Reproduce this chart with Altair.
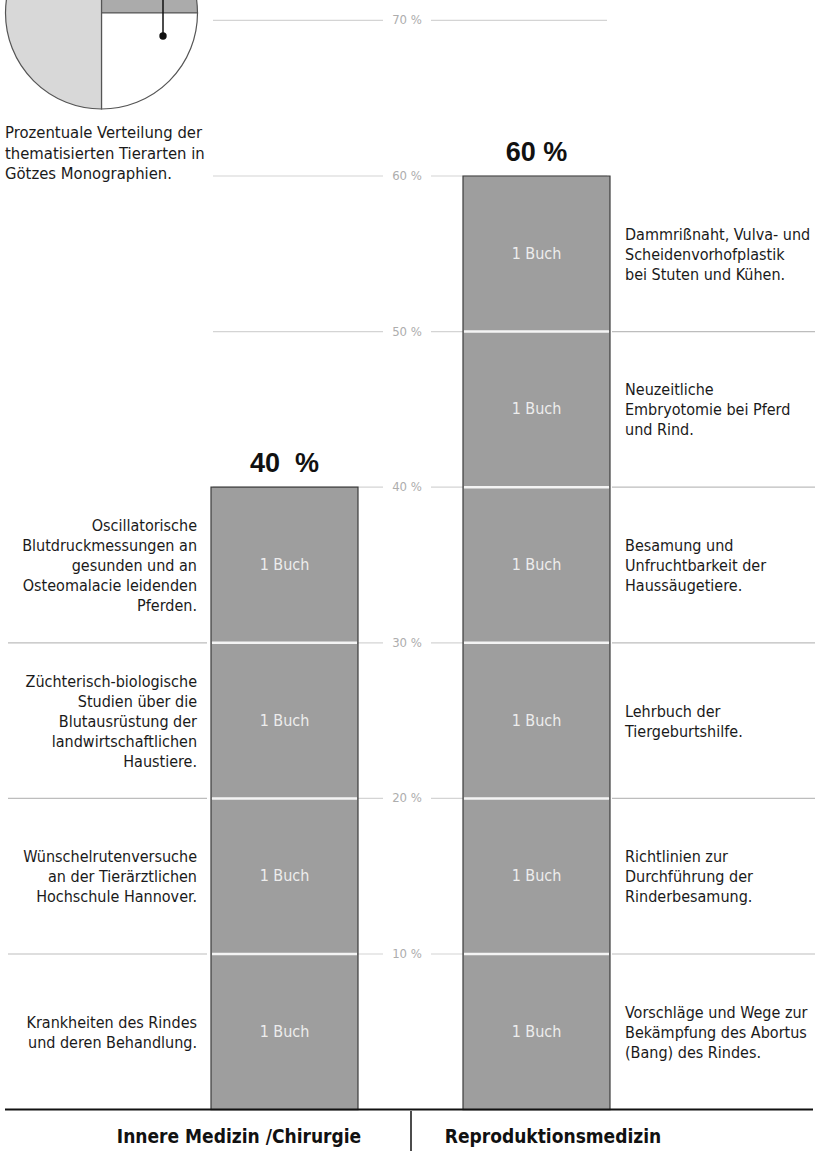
import altair as alt
import pandas as pd

# ---------------- data ----------------
categories = ["Innere Medizin /Chirurgie", "Reproduktionsmedizin"]

books_inner = [
    "Krankheiten des Rindes\nund deren Behandlung.",
    "Wünschelrutenversuche\nan der Tierärztlichen\nHochschule Hannover.",
    "Züchterisch-biologische\nStudien über die\nBlutausrüstung der\nlandwirtschaftlichen\nHaustiere.",
    "Oscillatorische\nBlutdruckmessungen an\ngesunden und an\nOsteomalacie leidenden\nPferden.",
]
books_repro = [
    "Vorschläge und Wege zur\nBekämpfung des Abortus\n(Bang) des Rindes.",
    "Richtlinien zur\nDurchführung der\nRinderbesamung.",
    "Lehrbuch der\nTiergeburtshilfe.",
    "Besamung und\nUnfruchtbarkeit der\nHaussäugetiere.",
    "Neuzeitliche\nEmbryotomie bei Pferd\nund Rind.",
    "Dammrißnaht, Vulva- und\nScheidenvorhofplastik\nbei Stuten und Kühen.",
]
books_per_title = [1, 1, 1, 1, 1, 1, 1, 1, 1, 1]
book_label = "1 Buch"
tick_values = [10, 20, 30, 40, 50, 60, 70]

pie_kinds = ["Pferd", "Pferd und Rind", "Rind"]
pie_shares = [25, 25, 50]
pie_order = [1, 2, 3]

caption = "Prozentuale Verteilung der\nthematisierten Tierarten in\nGötzes Monographien."

# ---------------- layout (positions / styles) ----------------
W, H = 817, 1151
Y_TOP, Y_BOTTOM = 71.31, -2.66
PX_PER_UNIT = H / (Y_TOP - Y_BOTTOM)
LINE_H = 20
BAR_X = {categories[0]: (211, 358), categories[1]: (463, 610)}
TEXT_X = {categories[0]: 197, categories[1]: 625}
GRID_EXT = {categories[0]: (8, 207), categories[1]: (612, 815)}
CAT_LABEL_X = {categories[0]: 239, categories[1]: 553}
MID_GRID = [(213, 383), (431, 607)]
TICK_X = 407
FONT = "DejaVu Sans Condensed, Liberation Sans Narrow, Arial Narrow, sans-serif"
BAR_FILL = "#9e9e9e"

xs = alt.Scale(domain=[0, W], nice=False, zero=False)
ys = alt.Scale(domain=[Y_BOTTOM, Y_TOP], nice=False, zero=False)

total_books = sum(books_per_title)
pct_per_book = 100.0 / total_books

# segments
seg_rows = []
k = 0
for cat, titles in zip(categories, [books_inner, books_repro]):
    y = 0.0
    x0, x1 = BAR_X[cat]
    for t in titles:
        h = pct_per_book * books_per_title[k]
        k += 1
        n = t.count("\n") + 1
        seg_rows.append(dict(cat=cat, y0=y, y1=y + h, mid=y + h / 2,
                             ytxt=y + h / 2 + ((n - 1) * LINE_H / 2 - 1) / PX_PER_UNIT,
                             title=t, x0=x0, x1=x1, xc=(x0 + x1) / 2, tx=TEXT_X[cat],
                             label=book_label))
        y += h
seg = pd.DataFrame(seg_rows)

tot = seg.groupby("cat").agg(y1=("y1", "max")).reset_index()
tot["x0"] = tot["cat"].map(lambda c: BAR_X[c][0])
tot["x1"] = tot["cat"].map(lambda c: BAR_X[c][1])
tot["xc"] = (tot["x0"] + tot["x1"]) / 2
tot["y0"] = 0.0
tot["txt"] = tot["y1"].map(lambda v: f"{v:.0f}\u00a0\u00a0%" if v < 50 else f"{v:.0f} %")

# internal boundaries
bnd = seg[seg["y0"] > 0][["cat", "y0", "x0", "x1"]].copy()
bnd["ix0"] = bnd["x0"] + 1
bnd["ix1"] = bnd["x1"] - 1
bnd["gx0"] = bnd["cat"].map(lambda c: GRID_EXT[c][0])
bnd["gx1"] = bnd["cat"].map(lambda c: GRID_EXT[c][1])

# middle grid
mg_rows = []
for t in tick_values:
    for a, b in MID_GRID:
        mg_rows.append(dict(y=t, x0=a, x1=b))
mg = pd.DataFrame(mg_rows)
ticks = pd.DataFrame(dict(y=tick_values, x=[TICK_X] * len(tick_values),
                          txt=[f"{t} %" for t in tick_values]))

cats_df = pd.DataFrame(dict(cat=categories, x=[CAT_LABEL_X[c] for c in categories]))
base_df = pd.DataFrame(dict(x0=[5], x1=[813], y=[0]))
pie_df = pd.DataFrame(dict(kind=pie_kinds, share=pie_shares, ord=pie_order))
one = pd.DataFrame(dict(a=[0]))

X = lambda f: alt.X(f, scale=xs, axis=None)
Y = lambda f: alt.Y(f, scale=ys, axis=None)

layers = []

# extended gridlines beside bars
layers.append(alt.Chart(bnd).mark_rule(color="#bdbdbd", strokeWidth=1.2).encode(
    x=X("gx0:Q"), x2="gx1:Q", y=Y("y0:Q")))
# middle gridlines
layers.append(alt.Chart(mg).mark_rule(color="#d4d4d4", strokeWidth=1.2).encode(
    x=X("x0:Q"), x2="x1:Q", y=Y("y:Q")))
layers.append(alt.Chart(ticks).mark_text(font=FONT, fontSize=13, color="#adadad",
                                         align="center", baseline="middle").encode(
    x=X("x:Q"), y=Y("y:Q"), text="txt:N"))
# segments
layers.append(alt.Chart(seg).mark_rect(color=BAR_FILL).encode(
    x=X("x0:Q"), x2="x1:Q", y=Y("y0:Q"), y2="y1:Q"))
# white separators
layers.append(alt.Chart(bnd).mark_rule(color="#f4f4f4", strokeWidth=2.5).encode(
    x=X("ix0:Q"), x2="ix1:Q", y=Y("y0:Q")))
# outline
layers.append(alt.Chart(tot).mark_rect(fillOpacity=0, stroke="#3c3c3c", strokeWidth=1.2).encode(
    x=X("x0:Q"), x2="x1:Q", y=Y("y0:Q"), y2="y1:Q"))
# 1 Buch labels
layers.append(alt.Chart(seg).mark_text(font=FONT, fontSize=16, color="#ededed",
                                       align="center", baseline="middle").encode(
    x=X("xc:Q"), y=Y("mid:Q"), text="label:N"))
# titles
layers.append(alt.Chart(seg[seg["cat"] == categories[0]]).mark_text(
    font=FONT, fontSize=16, color="#1a1a1a", align="right", baseline="middle",
    lineBreak="\n", lineHeight=LINE_H).encode(
    x=X("tx:Q"), y=Y("ytxt:Q"), text="title:N"))
layers.append(alt.Chart(seg[seg["cat"] == categories[1]]).mark_text(
    font=FONT, fontSize=16, color="#1a1a1a", align="left", baseline="middle",
    lineBreak="\n", lineHeight=LINE_H).encode(
    x=X("tx:Q"), y=Y("ytxt:Q"), text="title:N"))
# totals
layers.append(alt.Chart(tot).mark_text(font="Liberation Sans, Arial, sans-serif", fontSize=27,
                                       fontWeight="bold", color="#111", align="center",
                                       baseline="middle", dy=-23).encode(
    x=X("xc:Q"), y=Y("y1:Q"), text="txt:N"))
# baseline + divider + category labels
layers.append(alt.Chart(base_df).mark_rule(color="#111", strokeWidth=2).encode(
    x=X("x0:Q"), x2="x1:Q", y=Y("y:Q")))
layers.append(alt.Chart(one).mark_rule(color="#111", strokeWidth=1.5).encode(
    x=alt.value(411), y=alt.value(1111), y2=alt.value(1151)))
layers.append(alt.Chart(cats_df).mark_text(font=FONT, fontSize=19, fontWeight="bold",
                                           color="#111", align="center", baseline="middle").encode(
    x=X("x:Q"), y=alt.value(1137), text="cat:N"))
# caption
layers.append(alt.Chart(one).mark_text(font=FONT, fontSize=16.5, color="#1a1a1a", align="left",
                                       baseline="middle", lineBreak="\n", lineHeight=20.5,
                                       text=caption).encode(
    x=alt.value(5), y=alt.value(133)))
# pie
layers.append(alt.Chart(pie_df).mark_arc(radius=96, stroke="#555", strokeWidth=1.2).encode(
    theta=alt.Theta("share:Q", stack=True),
    order=alt.Order("ord:Q"),
    color=alt.Color("kind:N", scale=alt.Scale(domain=pie_kinds,
                                              range=["#ababab", "#ffffff", "#d8d8d8"]),
                    legend=None),
    x=alt.value(101.5), y=alt.value(13)))
layers.append(alt.Chart(one).mark_rule(color="#111", strokeWidth=1.5).encode(
    x=alt.value(163), y=alt.value(0), y2=alt.value(36)))
layers.append(alt.Chart(one).mark_point(filled=True, color="#111", size=55, opacity=1).encode(
    x=alt.value(163), y=alt.value(36)))

chart = alt.layer(*layers).properties(
    width=W, height=H, padding=0, autosize=alt.AutoSizeParams(type="none"),
    background="white"
).configure_view(strokeWidth=0)

chart.save("out.html", embed_options={"renderer": "svg", "actions": False})
